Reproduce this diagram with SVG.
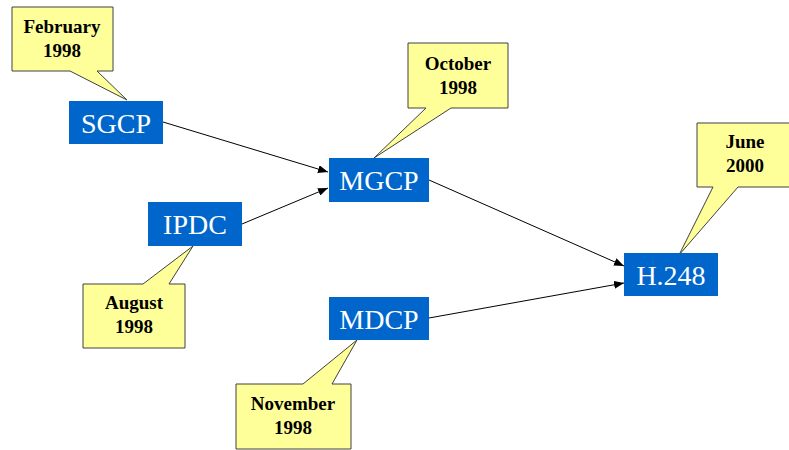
<svg xmlns="http://www.w3.org/2000/svg" width="789" height="450" viewBox="0 0 789 450">
  <style>
    .callout { fill: #FFFF99; stroke: #404040; stroke-width: 1; }
    .note { font-family: "Liberation Serif", "Times New Roman", serif; font-size: 19px; font-weight: bold; fill: #000; text-anchor: middle; }
    .box { fill: #0066CC; }
    .label { font-family: "Liberation Serif", "Times New Roman", serif; font-size: 28px; fill: #fff; text-anchor: middle; }
    .edge { stroke: #000; stroke-width: 1; fill: none; marker-end: url(#arrow); }
  </style>
  <defs>
    <marker id="arrow" viewBox="0 0 10 8" refX="10" refY="4" markerWidth="10" markerHeight="8" markerUnits="userSpaceOnUse" orient="auto">
      <path d="M0,0 L10,4 L0,8 Z" fill="#000"/>
    </marker>
  </defs>

  <!-- date callouts -->
  <g id="note-february">
    <path class="callout" d="M12,7 H113 V71 H97 L127,100 L70,71 H12 Z"/>
    <text class="note" x="62" y="33">February</text>
    <text class="note" x="62" y="57">1998</text>
  </g>
  <g id="note-october">
    <path class="callout" d="M408,43 H508 V108 H451 L374,158 L426,108 H408 Z"/>
    <text class="note" x="458" y="70">October</text>
    <text class="note" x="458" y="94">1998</text>
  </g>
  <g id="note-august">
    <path class="callout" d="M83,284 H143 L193,246 L169,284 H185 V348 H83 Z"/>
    <text class="note" x="134" y="309">August</text>
    <text class="note" x="134" y="333">1998</text>
  </g>
  <g id="note-november">
    <path class="callout" d="M236,384 H303 L357,340 L332,384 H351 V449 H236 Z"/>
    <text class="note" x="293" y="410">November</text>
    <text class="note" x="293" y="434">1998</text>
  </g>
  <g id="note-june">
    <path class="callout" d="M697,123 H795 V187 H738 L679,255 L713,187 H697 Z"/>
    <text class="note" x="745" y="148">June</text>
    <text class="note" x="745" y="172">2000</text>
  </g>

  <!-- protocol nodes -->
  <g id="sgcp">
    <rect class="box" x="69" y="101" width="94" height="43"/>
    <text class="label" x="116" y="133">SGCP</text>
  </g>
  <g id="ipdc">
    <rect class="box" x="148" y="202" width="94" height="44"/>
    <text class="label" x="195" y="234">IPDC</text>
  </g>
  <g id="mgcp">
    <rect class="box" x="329" y="158" width="100" height="44"/>
    <text class="label" x="379" y="190">MGCP</text>
  </g>
  <g id="mdcp">
    <rect class="box" x="329" y="297" width="100" height="43"/>
    <text class="label" x="379" y="329">MDCP</text>
  </g>
  <g id="h248">
    <rect class="box" x="624" y="253" width="94" height="43"/>
    <text class="label" x="671" y="285">H.248</text>
  </g>

  <!-- evolution arrows -->
  <g id="connectors">
    <line class="edge" x1="163" y1="122" x2="328" y2="172"/>
    <line class="edge" x1="242" y1="224" x2="328" y2="188"/>
    <line class="edge" x1="429" y1="180" x2="624" y2="266"/>
    <line class="edge" x1="429" y1="318" x2="624" y2="283"/>
  </g>
</svg>
